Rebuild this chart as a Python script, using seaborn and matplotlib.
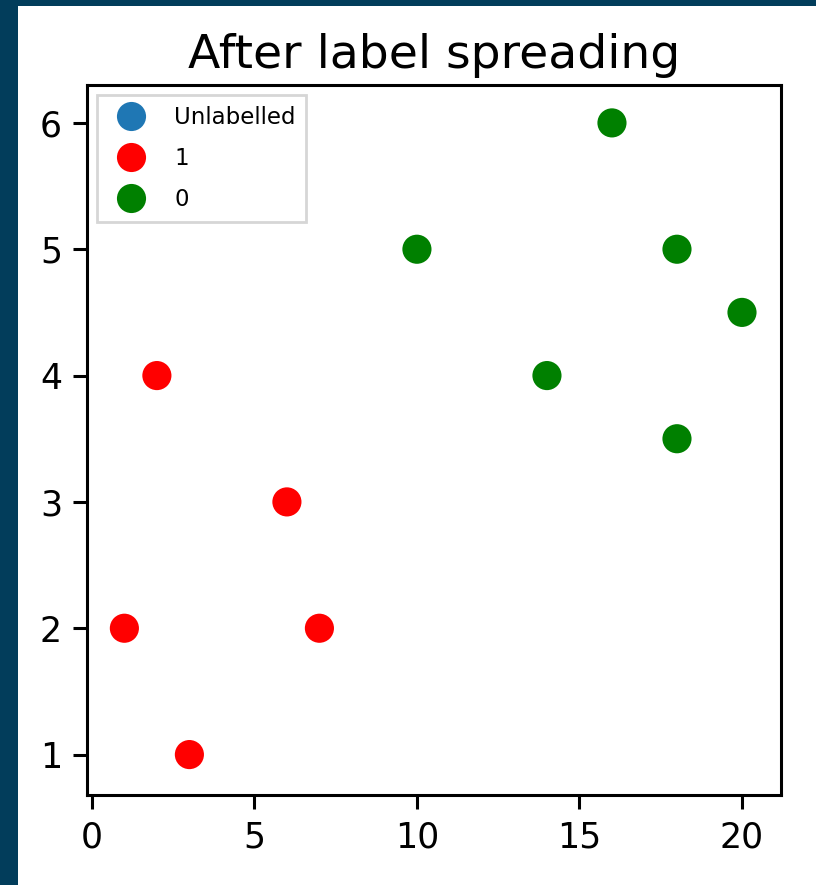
import pandas as pd
import seaborn as sns
import matplotlib.pyplot as plt
from matplotlib.patches import Rectangle

# points after label spreading
x_red = [2, 6, 1, 7, 3]
y_red = [4, 3, 2, 2, 1]
x_green = [10, 16, 18, 20, 14, 18]
y_green = [5, 6, 5, 4.5, 4, 3.5]
labels = ["Unlabelled", "1", "0"]
colors = ["#1f77b4", "red", "green"]

df = pd.DataFrame({
    "x": x_red + x_green,
    "y": y_red + y_green,
    "label": ["1"] * len(x_red) + ["0"] * len(x_green),
})

sns.set_theme(style="ticks")
plt.rcParams["font.family"] = ["DejaVu Sans"]
plt.rcParams["text.color"] = "black"
plt.rcParams["xtick.color"] = "black"
plt.rcParams["ytick.color"] = "black"

fig = plt.figure(figsize=(8.16, 8.85), dpi=100)
fig.patch.set_facecolor("#023d5b")
fig.patches.append(Rectangle((18 / 816, 0), 1, 1 - 6 / 885, transform=fig.transFigure,
                             facecolor="white", edgecolor="none", zorder=-10))
ax = fig.add_axes([87 / 816, 1 - 795 / 885, (781 - 87) / 816, (795 - 85) / 885])

sns.scatterplot(data=df, x="x", y="y", hue="label", hue_order=labels,
                palette=dict(zip(labels, colors)), s=520, ax=ax)

ax.set_xlim(-0.15, 21.2)
ax.set_ylim(0.68, 6.30)
ax.set_xticks([0, 5, 10, 15, 20])
ax.set_yticks([1, 2, 3, 4, 5, 6])
ax.set_xlabel("")
ax.set_ylabel("")
ax.set_title("After label spreading", fontsize=34, pad=12, color="black")
ax.tick_params(labelsize=25, length=10, width=2.2, color="black", pad=8)
for sp in ax.spines.values():
    sp.set_color("black")
    sp.set_linewidth(2.2)

handles, _ = ax.get_legend_handles_labels()
leg = ax.legend(handles=handles, labels=labels, loc="upper left", fontsize=16.5,
                markerscale=1.0, frameon=True, fancybox=False, borderpad=0.45,
                labelspacing=0.8, handletextpad=0.9, borderaxespad=0.45)
leg.get_frame().set_edgecolor("#cccccc")
leg.get_frame().set_linewidth(2)

fig.savefig("out.png", dpi=100, facecolor=fig.get_facecolor())
